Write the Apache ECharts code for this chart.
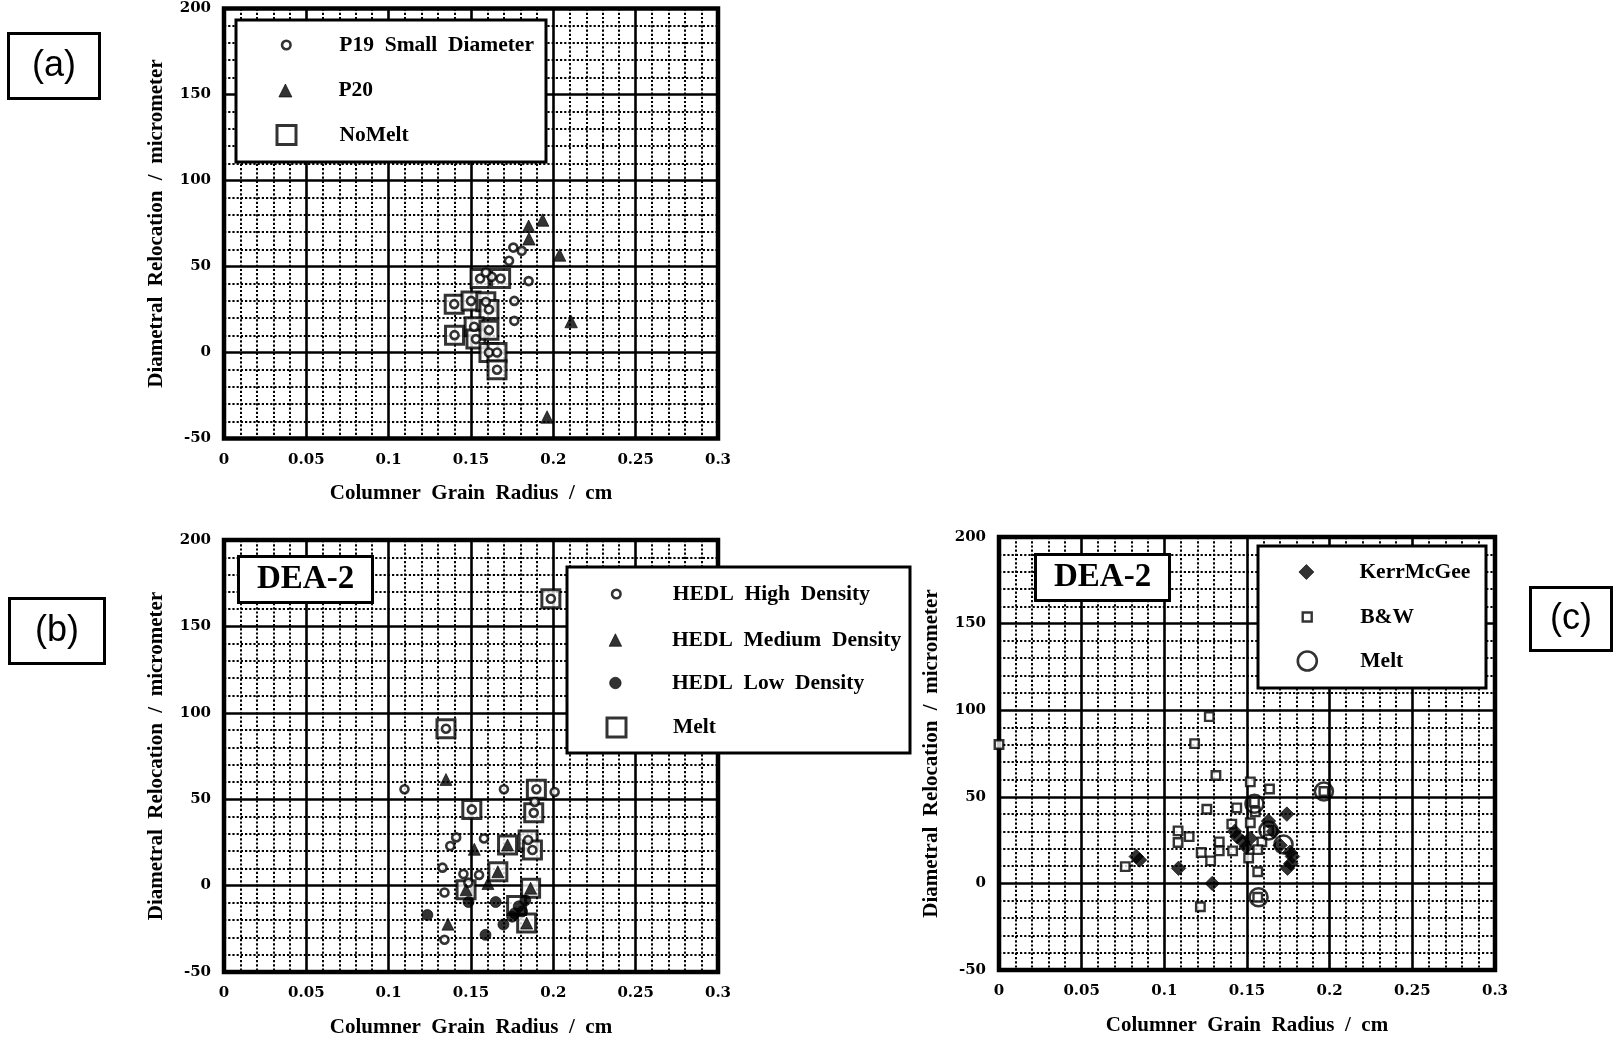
<!DOCTYPE html>
<html><head><meta charset="utf-8">
<script src="https://cdn.jsdelivr.net/npm/echarts@6/dist/echarts.min.js"></script>
<style>html,body{margin:0;padding:0;background:#fff}#c{width:1616px;height:1041px}</style>
</head><body><div id="c"></div>
<script>
// ---------- text ----------
const xTickLabels = ['0','0.05','0.1','0.15','0.2','0.25','0.3'];
const yTickLabels = ['-50','0','50','100','150','200'];
const xAxisTitle = 'Columner Grain Radius / cm';
const yAxisTitle = 'Diametral Relocation / micrometer';
const panelLabels = ['(a)','(b)','(c)'];
const dea2Label = 'DEA-2';
const namesA = ['P19 Small Diameter','P20','NoMelt'];
const namesB = ['HEDL High Density','HEDL Medium Density','HEDL Low Density','Melt'];
const namesC = ['KerrMcGee','B&W','Melt'];

// ---------- data (x = radius cm, y = relocation um) ----------
const p19Small = [[0.1757,61.0],[0.1808,59.1],[0.1731,53.3],[0.1555,43.0],[0.1626,44.0],[0.1680,43.0],[0.1590,46.5],[0.1850,41.5],
  [0.1398,28.1],[0.1500,30.0],[0.1590,29.5],[0.1609,25.0],[0.1763,30.0],[0.1763,18.4],[0.1519,15.0],[0.1400,10.1],
  [0.1530,7.8],[0.1609,13.0],[0.1609,0.0],[0.1658,0.0],[0.1658,-10.0]];
const p20 = [[0.1850,73.4],[0.1852,66.1],[0.1935,77.0],[0.2038,56.7],[0.2108,18.0],[0.1962,-37.5]];
const noMelt = [[0.1555,43.0],[0.1680,43.0],[0.1398,28.1],[0.1500,30.0],[0.1590,29.5],[0.1609,25.0],[0.1400,10.1],
  [0.1519,15.0],[0.1530,7.8],[0.1609,13.0],[0.1609,0.0],[0.1658,0.0],[0.1658,-10.0]];

const hedlHigh = [[0.1985,166.0],[0.1348,90.8],[0.1096,55.8],[0.1700,55.8],[0.1897,55.8],[0.2008,54.2],[0.1887,48.4],
  [0.1881,42.1],[0.1505,44.1],[0.1410,27.9],[0.1374,22.9],[0.1579,27.3],[0.1847,26.4],[0.1873,20.6],[0.1327,10.4],
  [0.1454,6.7],[0.1484,1.7],[0.1549,6.2],[0.1339,-4.0],[0.1339,-31.3]];
const hedlMedium = [[0.1348,61.4],[0.1520,21.0],[0.1722,23.5],[0.1663,8.0],[0.1603,1.2],[0.1862,-1.5],[0.1838,-21.7],
  [0.1360,-22.3],[0.1470,-2.4]];
const hedlLow = [[0.1235,-17.0],[0.1485,-9.5],[0.1650,-9.5],[0.1588,-28.5],[0.1697,-22.5],[0.1766,-16.0],[0.1790,-12.0],
  [0.1830,-8.5],[0.1810,-15.0],[0.1750,-18.0]];
const meltB = [[0.1985,166.0],[0.1348,90.8],[0.1897,55.8],[0.1881,42.1],[0.1505,44.1],[0.1847,26.4],[0.1873,20.6],
  [0.1722,23.5],[0.1663,8.0],[0.1862,-1.5],[0.1838,-21.7],[0.1470,-2.4],[0.1777,-11.5]];

const kerrMcGee = [[0.0830,15.5],[0.0850,13.5],[0.1086,8.7],[0.1290,0.0],[0.1425,30.0],[0.1440,27.0],[0.1475,24.0],
  [0.1495,21.0],[0.1520,26.0],[0.1630,36.0],[0.1741,40.0],[0.1660,30.0],[0.1700,22.0],[0.1745,8.8],[0.1765,11.5],
  [0.1775,15.5],[0.1760,18.0]];
const bw = [[0.0000,80.2],[0.1272,96.3],[0.1183,80.7],[0.1312,62.3],[0.1520,58.6],[0.1636,54.5],[0.1257,42.8],
  [0.1438,43.6],[0.1545,47.0],[0.1550,41.3],[0.1408,34.2],[0.1520,35.0],[0.1083,30.3],[0.1083,23.6],[0.1150,27.0],
  [0.1332,24.0],[0.1332,18.8],[0.1223,17.8],[0.1413,18.8],[0.1280,13.0],[0.1590,24.0],[0.1565,19.5],[0.1510,14.7],
  [0.1565,6.7],[0.1218,-13.5],[0.1565,-8.0],[0.0764,9.7],[0.1965,53.1],[0.1630,30.5]];
const meltC = [[0.1965,53.1],[0.1570,-8.0],[0.1545,46.0],[0.1630,30.5],[0.1721,22.5]];

// ---------- layout ----------
const SERIF = 'Liberation Serif';
const grids = [
  {left:224, top:8.5, width:494, height:430},
  {left:224, top:540, width:494, height:432},
  {left:999, top:537, width:496, height:433}
];
const wide = s => s.split(' ').join('  ');

function makeX(gi){
  return {type:'value', gridIndex:gi, min:0, max:0.3, interval:0.05,
    name: wide(xAxisTitle), nameLocation:'middle', nameGap:45,
    nameTextStyle:{fontFamily:SERIF, fontWeight:'bold', fontSize:21, color:'#000'},
    axisLine:{show:false}, axisTick:{show:false},
    axisLabel:{interval:0, margin:14, fontFamily:'DejaVu Serif', fontWeight:'bold', fontSize:15, color:'#000',
      formatter:v => xTickLabels[Math.round(v/0.05)]},
    splitLine:{show:true, lineStyle:{color:'#000', width:2.6}},
    minorTick:{show:false, splitNumber:5},
    minorSplitLine:{show:true, lineStyle:{color:'#000', width:2, type:[2.2,2]}}};
}
function makeY(gi){
  return {type:'value', gridIndex:gi, min:-50, max:200, interval:50,
    name: wide(yAxisTitle), nameLocation:'middle', nameGap:57,
    nameTextStyle:{fontFamily:SERIF, fontWeight:'bold', fontSize:21, color:'#000'},
    axisLine:{show:false}, axisTick:{show:false},
    axisLabel:{interval:0, margin:13, fontFamily:'DejaVu Serif', fontWeight:'bold', fontSize:15, color:'#000',
      formatter:v => yTickLabels[Math.round((v+50)/50)]},
    splitLine:{show:true, lineStyle:{color:'#000', width:2.6}},
    minorTick:{show:false, splitNumber:5},
    minorSplitLine:{show:true, lineStyle:{color:'#000', width:2, type:[2.2,2]}}};
}

const OPEN = {color:'#fff', borderColor:'#000', borderWidth:2.6};
const FILLED = {color:'#000', borderColor:'#000', borderWidth:0.8};
const BIGSQ = {color:'#fff', borderColor:'#000', borderWidth:3};
function sc(name, gi, data, symbol, size, style, z){
  return {type:'scatter', name, xAxisIndex:gi, yAxisIndex:gi, data, symbol, symbolSize:size,
    itemStyle:style, z:z, clip:false, emphasis:{disabled:true}};
}

// one legend per entry so that each icon has its own size
function leg(name, icon, cx, cy, size, textX, style){
  return {data:[{name, icon}], selectedMode:false, orient:'vertical', padding:0,
    left: cx - size/2, top: cy - 11, itemWidth:size, itemHeight:size, itemStyle:style,
    formatter: n => wide(n),
    textStyle:{fontFamily:SERIF, fontWeight:'bold', fontSize:21.5, lineHeight:22, color:'#000',
      padding:[0,0,0, textX - (cx + size/2 + 5)]}};
}

const option = {
  animation:false,
  backgroundColor:'#fff',
  grid: grids.map(g => Object.assign({show:true, borderColor:'#000', borderWidth:4.5, backgroundColor:'#fff',
    containLabel:false, outerBoundsMode:'none'}, g)),
  xAxis:[makeX(0), makeX(1), makeX(2)],
  yAxis:[makeY(0), makeY(1), makeY(2)],
  series:[
    sc(namesA[2], 0, noMelt, 'rect', 18, BIGSQ, 2),
    sc(namesA[0], 0, p19Small, 'circle', 8, OPEN, 3),
    sc(namesA[1], 0, p20, 'triangle', 12.5, FILLED, 3),

    sc(namesB[3], 1, meltB, 'rect', 18, BIGSQ, 2),
    sc(namesB[0], 1, hedlHigh, 'circle', 8, OPEN, 3),
    sc(namesB[1], 1, hedlMedium, 'triangle', 12, FILLED, 3),
    sc(namesB[2], 1, hedlLow, 'circle', 11, FILLED, 3),

    sc(namesC[1], 2, bw, 'rect', 8.5, {color:'#fff', borderColor:'#000', borderWidth:2.4}, 2),
    sc(namesC[0], 2, kerrMcGee, 'diamond', 14.5, FILLED, 3),
    sc(namesC[2], 2, meltC, 'circle', 18, {color:'rgba(0,0,0,0)', borderColor:'#000', borderWidth:2.6}, 3)
  ],
  legend:[
    leg(namesA[0], 'circle', 285, 45, 8.5, 338, OPEN),
    leg(namesA[1], 'triangle', 285, 90.5, 13, 338, FILLED),
    leg(namesA[2], 'rect', 285, 135, 19, 338, BIGSQ),

    leg(namesB[0], 'circle', 615, 594, 8.5, 671.5, OPEN),
    leg(namesB[1], 'triangle', 615, 640, 12.5, 671.5, FILLED),
    leg(namesB[2], 'circle', 615, 683, 11.5, 671.5, FILLED),
    leg(namesB[3], 'rect', 615, 727.5, 19, 671.5, BIGSQ),

    leg(namesC[0], 'diamond', 1306, 572, 15, 1359, FILLED),
    leg(namesC[1], 'rect', 1306, 617, 9, 1359, {color:'#fff', borderColor:'#000', borderWidth:2.4}),
    leg(namesC[2], 'circle', 1306, 661, 19, 1359, {color:'#fff', borderColor:'#000', borderWidth:2.6})
  ],
  graphic:[
    {type:'rect', z:3, shape:{x:236, y:20, width:310, height:142}, style:{fill:'#fff', stroke:'#000', lineWidth:3}},
    {type:'rect', z:3, shape:{x:567, y:567, width:343, height:186}, style:{fill:'#fff', stroke:'#000', lineWidth:3}},
    {type:'rect', z:3, shape:{x:1258, y:546, width:228, height:142}, style:{fill:'#fff', stroke:'#000', lineWidth:3}}
  ],
  title:[
    {text:dea2Label, left:238, top:556, padding:[6,19], borderColor:'#000', borderWidth:3, backgroundColor:'#fff',
      textStyle:{fontFamily:SERIF, fontWeight:'bold', fontSize:33, lineHeight:35, color:'#000'}},
    {text:dea2Label, left:1035, top:554, padding:[6,19], borderColor:'#000', borderWidth:3, backgroundColor:'#fff',
      textStyle:{fontFamily:SERIF, fontWeight:'bold', fontSize:33, lineHeight:35, color:'#000'}},
    {text:panelLabels[0], left:8, top:33, padding:[13,24], borderColor:'#000', borderWidth:3, backgroundColor:'#fff',
      textStyle:{fontFamily:'Liberation Sans', fontWeight:'normal', fontSize:36, lineHeight:40, color:'#000'}},
    {text:panelLabels[1], left:9, top:598, padding:[13,26], borderColor:'#000', borderWidth:3, backgroundColor:'#fff',
      textStyle:{fontFamily:'Liberation Sans', fontWeight:'normal', fontSize:36, lineHeight:40, color:'#000'}},
    {text:panelLabels[2], left:1530, top:587, padding:[12,20], borderColor:'#000', borderWidth:3, backgroundColor:'#fff',
      textStyle:{fontFamily:'Liberation Sans', fontWeight:'normal', fontSize:36, lineHeight:40, color:'#000'}}
  ]
};
const chart = echarts.init(document.getElementById('c'), null, {renderer:'canvas'});
chart.setOption(option);
</script></body></html>
